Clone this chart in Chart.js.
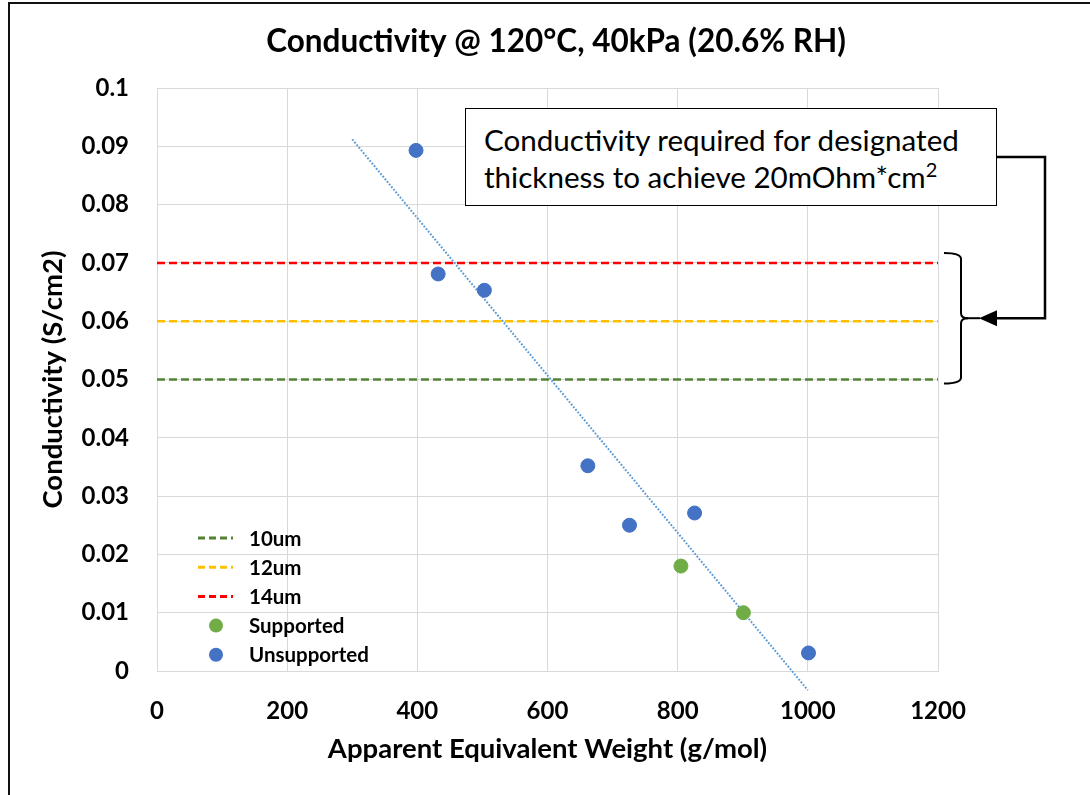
<!DOCTYPE html>
<html>
<head>
<meta charset="utf-8">
<script src="https://cdn.jsdelivr.net/npm/chart.js@4.4.1/dist/chart.umd.min.js"></script>
<style>
html,body{margin:0;padding:0;background:#fff;}
#wrap{position:relative;width:1090px;height:795px;overflow:hidden;background:#fff;}
#wrap canvas{position:absolute;left:0;top:0;}
#frameTop{position:absolute;left:8px;top:2px;width:1082px;height:2px;background:#111;}
#frameLeft{position:absolute;left:8px;top:2px;width:2px;height:793px;background:#111;}
#note{position:absolute;left:465px;top:108px;width:532px;height:98px;box-sizing:border-box;border:1.5px solid #000;background:#fff;
  font-family:Lato,"Open Sans",sans-serif;font-size:29.6px;line-height:37px;color:#000;padding:12px 0 0 18px;white-space:nowrap;}
#note sup{font-size:20px;line-height:0;vertical-align:11px;}
</style>
</head>
<body>
<div id="wrap">
  <canvas id="c" width="1090" height="795"></canvas>
  <div id="frameTop"></div>
  <div id="frameLeft"></div>
  <div id="note">Conductivity required for designated<br>thickness to achieve 20mOhm*cm<sup>2</sup></div>
</div>
<script>
// ---- data ----
const chartTitle = 'Conductivity @ 120°C, 40kPa (20.6% RH)';
const xAxisTitle = 'Apparent Equivalent Weight (g/mol)';
const yAxisTitle = 'Conductivity (S/cm2)';
const supportedEW = [805, 901];
const supportedCond = [0.018, 0.010];
const unsupportedEW = [398, 432, 503, 662, 726, 826, 1001];
const unsupportedCond = [0.0893, 0.0681, 0.0653, 0.0352, 0.0250, 0.0271, 0.0031];
const thicknessLabels = ['10um', '12um', '14um'];
const requiredCond = [0.05, 0.06, 0.07];
const trendEW = [300, 1000];
const trendCond = [0.0912, -0.0033];
const xRange = [0, 1200];
const yRange = [0, 0.1];
const xStep = 200;
const yStep = 0.01;

const FONT = 'Lato, "Open Sans", sans-serif';
const lineColors = ['#548235', '#FFC000', '#FF0000'];

const pts = (xs, ys) => xs.map((x, i) => ({x: x, y: ys[i]}));

const datasets = [];
thicknessLabels.forEach((lab, i) => {
  datasets.push({
    label: lab, type: 'line', order: 1,
    data: [{x: xRange[0], y: requiredCond[i]}, {x: xRange[1], y: requiredCond[i]}],
    borderColor: lineColors[i], borderWidth: 2.5, borderDash: [8, 4],
    pointRadius: 0, showLine: true, fill: false
  });
});
datasets.push({label: 'Supported', order: 0, data: pts(supportedEW, supportedCond),
  backgroundColor: '#70AD47', borderColor: '#70AD47', pointRadius: 7, pointHoverRadius: 7});
datasets.push({label: 'Unsupported', order: 0, data: pts(unsupportedEW, unsupportedCond),
  backgroundColor: '#4472C4', borderColor: '#4472C4', pointRadius: 7, pointHoverRadius: 7});
datasets.push({label: 'Trend', type: 'line', order: 2, clip: false,
  data: pts(trendEW, trendCond), borderColor: '#5B9BD5', borderWidth: 2,
  borderDash: [1.8, 1.6], pointRadius: 0, showLine: true, fill: false});

const decor = {
  id: 'decor',
  afterDraw(chart) {
    const ctx = chart.ctx;
    const ys = chart.scales.y;
    ctx.save();
    // title
    ctx.fillStyle = '#000';
    ctx.font = 'bold 31.5px ' + FONT;
    ctx.textAlign = 'center';
    ctx.textBaseline = 'middle';
    ctx.fillText(chartTitle, 556, 42);

    // legend
    const legendItems = [0, 1, 2, 3, 4];
    const ly0 = 538, ldy = 29.2;
    ctx.font = 'bold 20.5px ' + FONT;
    ctx.textAlign = 'left';
    legendItems.forEach((di, k) => {
      const ds = chart.data.datasets[di];
      const yy = ly0 + k * ldy;
      if (ds.type === 'line') {
        ctx.strokeStyle = ds.borderColor;
        ctx.lineWidth = 3;
        ctx.setLineDash([7, 4]);
        ctx.beginPath(); ctx.moveTo(198, yy); ctx.lineTo(233, yy); ctx.stroke();
        ctx.setLineDash([]);
      } else {
        ctx.fillStyle = ds.backgroundColor;
        ctx.beginPath(); ctx.arc(216, yy, 7, 0, Math.PI * 2); ctx.fill();
      }
      ctx.fillStyle = '#000';
      ctx.fillText(ds.label, 249, yy + 1);
    });

    // bracket
    const yTop = ys.getPixelForValue(requiredCond[2]) - 10;
    const yBot = ys.getPixelForValue(requiredCond[0]) + 4;
    const yMid = ys.getPixelForValue(requiredCond[1]) - 3;
    ctx.strokeStyle = '#000';
    ctx.lineWidth = 2;
    ctx.beginPath();
    ctx.moveTo(944, yTop);
    ctx.quadraticCurveTo(961, yTop, 961, yTop + 6);
    ctx.lineTo(961, yMid - 5);
    ctx.quadraticCurveTo(961, yMid, 968, yMid);
    ctx.quadraticCurveTo(961, yMid, 961, yMid + 5);
    ctx.lineTo(961, yBot - 6);
    ctx.quadraticCurveTo(961, yBot, 944, yBot);
    ctx.stroke();
    ctx.beginPath(); ctx.moveTo(966, yMid); ctx.lineTo(980, yMid); ctx.stroke();

    // elbow connector from note box to bracket
    ctx.lineWidth = 2.5;
    ctx.beginPath();
    ctx.moveTo(997, 157);
    ctx.lineTo(1045, 157);
    ctx.lineTo(1045, yMid);
    ctx.lineTo(994, yMid);
    ctx.stroke();
    ctx.fillStyle = '#000';
    ctx.beginPath();
    ctx.moveTo(979, yMid);
    ctx.lineTo(997, yMid - 8);
    ctx.lineTo(997, yMid + 8);
    ctx.closePath();
    ctx.fill();
    ctx.restore();
  }
};

new Chart(document.getElementById('c'), {
  type: 'scatter',
  data: {datasets: datasets},
  options: {
    responsive: false,
    animation: false,
    events: [],
    layout: {padding: {top: 88, right: 152, bottom: 0, left: 0}},
    plugins: {legend: {display: false}, title: {display: false}, tooltip: {enabled: false}},
    scales: {
      x: {
        type: 'linear', min: xRange[0], max: xRange[1],
        afterFit(s) { s.height = 124; },
        ticks: {stepSize: xStep, color: '#000', font: {family: FONT, size: 24, weight: 'bold'}, padding: 26,
          callback: v => String(v)},
        grid: {color: '#D9D9D9', lineWidth: 1, drawTicks: false},
        border: {color: '#D9D9D9'},
        title: {display: true, text: xAxisTitle, color: '#000',
          font: {family: FONT, size: 27.5, weight: 'bold'}, padding: {top: 0, bottom: 29}}
      },
      y: {
        type: 'linear', min: yRange[0], max: yRange[1],
        afterFit(s) { s.width = 157; },
        ticks: {stepSize: yStep, color: '#000', font: {family: FONT, size: 24, weight: 'bold'}, padding: 28,
          callback: v => String(Number(v.toFixed(2)))},
        grid: {color: '#D9D9D9', lineWidth: 1, drawTicks: false},
        border: {color: '#D9D9D9'},
        title: {display: true, text: yAxisTitle, color: '#000',
          font: {family: FONT, size: 27.5, weight: 'bold'}, padding: {top: 37, bottom: 0}}
      }
    }
  },
  plugins: [decor]
});
</script>
</body>
</html>
